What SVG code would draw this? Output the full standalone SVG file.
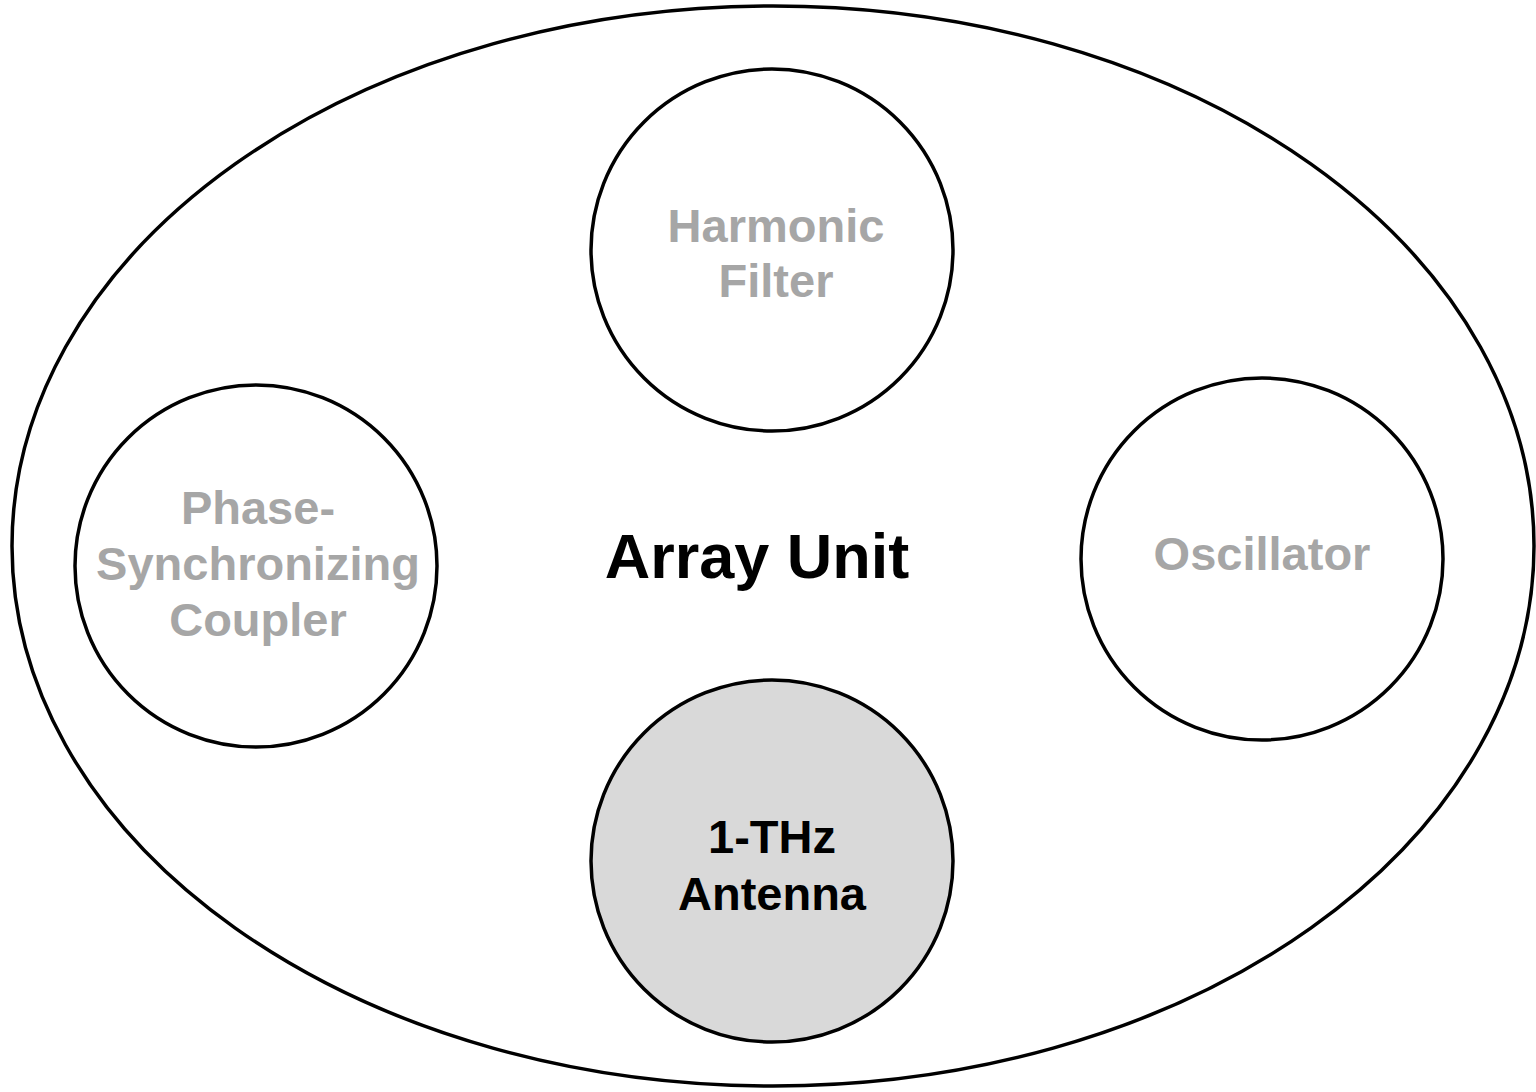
<svg xmlns="http://www.w3.org/2000/svg" width="1536" height="1092" viewBox="0 0 1536 1092">
  <style>
    .outline { fill: #ffffff; stroke: #000000; stroke-width: 3.5; }
    .block { fill: #ffffff; stroke: #000000; stroke-width: 3.5; }
    .active { fill: #d9d9d9; }
    .lbl { font-family: "Liberation Sans", Arial, sans-serif; font-weight: bold; font-size: 47px; text-anchor: middle; fill: #a6a6a6; }
    .lbl-dark { fill: #000000; }
    .title { font-family: "Liberation Sans", Arial, sans-serif; font-weight: bold; font-size: 63px; text-anchor: middle; fill: #000000; }
  </style>
  <rect width="1536" height="1092" fill="#ffffff"/>

  <!-- enclosing array unit -->
  <g id="array-unit">
    <ellipse class="outline" cx="773" cy="546" rx="761" ry="540"/>
    <text class="title" x="757" y="578">Array Unit</text>
  </g>

  <g id="connectors"></g>

  <g id="harmonic-filter">
    <circle class="block" cx="772" cy="250" r="181"/>
    <text class="lbl" x="776" y="242">Harmonic</text>
    <text class="lbl" x="776" y="297">Filter</text>
  </g>

  <g id="phase-coupler">
    <circle class="block" cx="256" cy="566" r="181"/>
    <text class="lbl" x="258" y="524">Phase-</text>
    <text class="lbl" x="258" y="580">Synchronizing</text>
    <text class="lbl" x="258" y="636">Coupler</text>
  </g>

  <g id="oscillator">
    <circle class="block" cx="1262" cy="559" r="181"/>
    <text class="lbl" x="1262" y="570">Oscillator</text>
  </g>

  <g id="antenna">
    <circle class="block active" cx="772" cy="861" r="181"/>
    <text class="lbl lbl-dark" x="772" y="853">1-THz</text>
    <text class="lbl lbl-dark" x="772" y="910">Antenna</text>
  </g>
</svg>
